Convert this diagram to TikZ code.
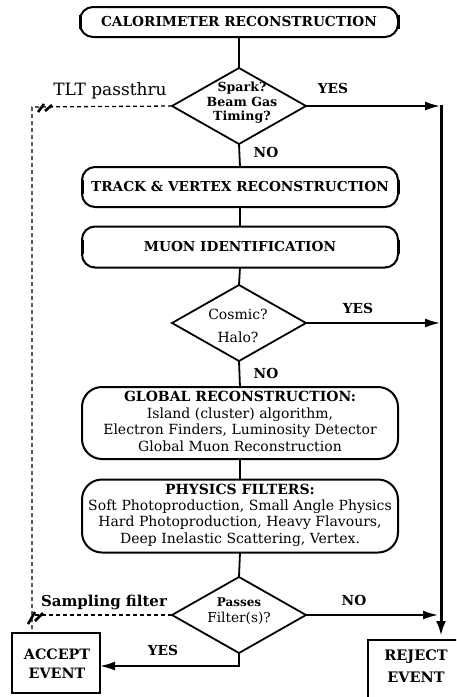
\documentclass[tikz,border=0pt]{standalone}
\usepackage{fontspec}
\setmainfont{DejaVu Serif}
\usetikzlibrary{arrows.meta,shapes.geometric}

\begin{document}
\begin{tikzpicture}[x=1pt,y=-1pt,
  every node/.style={inner sep=0pt, outer sep=0pt},
  term/.style={draw, line width=2pt, rounded corners=13pt, minimum width=316pt, align=center},
  decision/.style={draw, diamond, line width=1.8pt, minimum width=134pt, minimum height=76pt, inner sep=0pt},
  endbox/.style={draw, rectangle, line width=2pt},
  flow/.style={line width=1.8pt},
  arr/.style={flow, -{Latex[length=15pt,width=9pt]}},
  trunk/.style={line width=3pt, -{Latex[length=15pt,width=10pt]}},
  pass/.style={line width=1.3pt, dash pattern=on 4pt off 3pt},
  slashmark/.style={line width=2.6pt},
  endbar/.style={line width=3pt},
  title/.style={font=\bfseries\fontsize{13.7}{15}\selectfont},
  body/.style={font=\fontsize{14}{16.3}\selectfont, align=center},
  lab/.style={font=\bfseries\fontsize{13.8}{15}\selectfont},
]
\useasboundingbox (0,0) rectangle (456,697);
\clip (0,0) rectangle (456,697);

% processing stages
\node[term, title, minimum height=30pt, minimum width=318pt] (calo) at (239,22) {CALORIMETER RECONSTRUCTION};
\node[decision] (d1) at (239,106) {};
\node[align=center, font=\bfseries\fontsize{12.6}{14.5}\selectfont] (d1t) at (242,103) {Spark?\\Beam Gas\\Timing?};
\node[term, title, minimum height=40pt] (track) at (240,187) {TRACK \& VERTEX RECONSTRUCTION};
\node[term, title, minimum height=41pt] (muon) at (240,247) {MUON IDENTIFICATION};
\node[decision] (d2) at (239,323) {};
\node[align=center, font=\fontsize{14}{23}\selectfont] (d2t) at (238,326) {Cosmic?\\Halo?};
\node[term, rounded corners=20pt, minimum height=72pt] (global) at (240,423) {};
\node[body] (globalt) at (240,421)
  {\textbf{GLOBAL RECONSTRUCTION:}\\[1pt]Island (cluster) algorithm,\\Electron Finders, Luminosity Detector\\Global Muon Reconstruction};
\node[term, rounded corners=20pt, minimum height=73pt] (phys) at (240,516) {};
\node[body] (physt) at (240,515)
  {\textbf{PHYSICS FILTERS:}\\Soft Photoproduction, Small Angle Physics\\Hard Photoproduction, Heavy Flavours,\\Deep Inelastic Scattering, Vertex.};
\node[decision] (d3) at (239,615) {};
\node[align=center, font=\fontsize{13.7}{16}\selectfont] (d3t) at (239,611) {{\bfseries\fontsize{12}{16}\selectfont Passes}\\Filter(s)?};

% outcomes
\node[endbox, minimum width=88pt, minimum height=60pt] (acc) at (56,663) {};
\node[align=center, font=\bfseries\fontsize{14.3}{19}\selectfont] (acct) at (57,664) {ACCEPT\\EVENT};
\node[endbox, anchor=north west, minimum width=110pt, minimum height=80pt] (rej) at (368,640) {};
\node[align=center, font=\bfseries\fontsize{14.5}{22}\selectfont] (rejt) at (416,666) {REJECT\\EVENT};

% end markers of the one-line stages
\foreach \n in {calo,track,muon}{
  \draw[endbar] ([yshift=-7pt]\n.west) -- ([yshift=7pt]\n.west);
  \draw[endbar] ([yshift=-7pt]\n.east) -- ([yshift=7pt]\n.east);
}

% main flow
\draw[flow] (calo.south) -- (d1.north);
\draw[flow] (d1.south) -- (track.north);
\draw[flow] (track.south) -- (muon.north);
\draw[flow] (muon.south) -- (d2.north);
\draw[flow] (d2.south) -- (global.north);
\draw[flow] (global.south) -- (phys.north);
\draw[flow] (phys.south) -- (d3.north);

% reject path
\coordinate (rtop) at (441,106);
\draw[arr] (d1.east) -- ([xshift=-1pt]rtop);
\draw[arr] (d2.east) -- ([xshift=-1pt]d2.east -| rtop);
\draw[arr] (d3.east) -- ([xshift=-3pt]d3.east -| rtop);
\draw[trunk, shorten >=4pt] ([yshift=1.5pt]rtop) -- (rtop |- rej.north);

% accept path
\coordinate (ybend) at (239,666);
\draw[arr] (d3.south) -- (ybend) -- (ybend -| acc.east);

% pass-through paths
\coordinate (lt) at (32,107);
\draw[pass] (d1.west) -- (lt) -- (lt |- acc.north);
\draw[pass] (d3.west) -- (d3.west -| lt);
\draw[slashmark] (38,112) -- (44,104);
\draw[slashmark] (45,111) -- (52,105);
\draw[slashmark] (28,624) -- (35,612);
\draw[slashmark] (35,621) -- (43,613);

% labels
\node[font=\fontsize{17}{19}\selectfont] (ltlt) at (110,91) {TLT passthru};
\node[font=\bfseries\fontsize{15}{17}\selectfont] (lsamp) at (104,602) {Sampling filter};
\node[lab] (yes1) at (333,88) {YES};
\node[lab] (no1) at (266,152) {NO};
\node[lab] (yes2) at (358,308) {YES};
\node[lab] (no2) at (266,373) {NO};
\node[lab] (no3) at (354,600) {NO};
\node[lab] (yes3) at (163,650) {YES};
\end{tikzpicture}
\end{document}
